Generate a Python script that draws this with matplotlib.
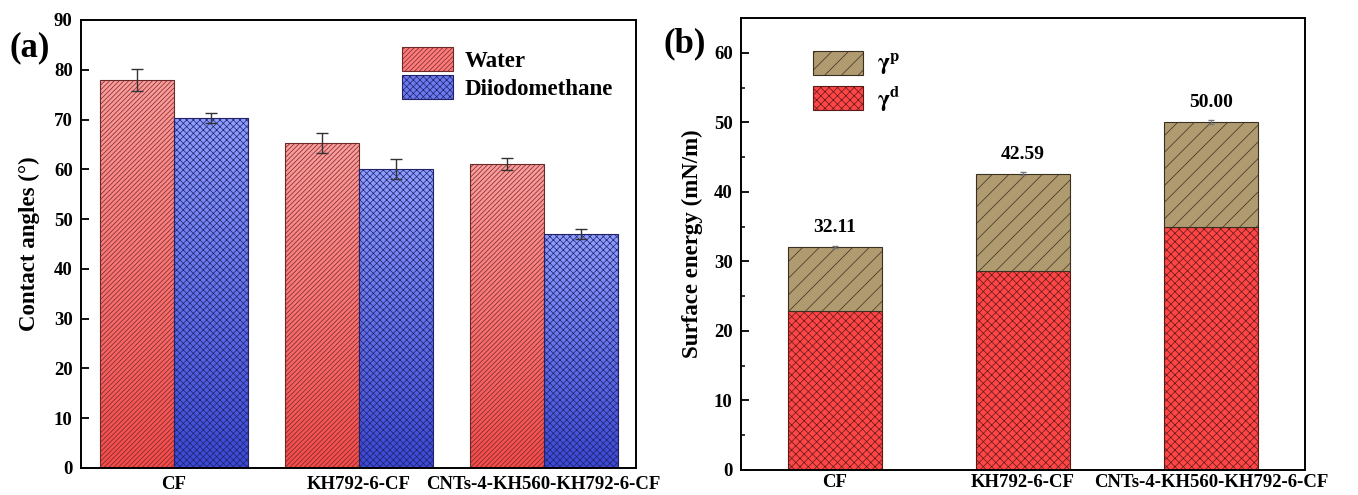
import numpy as np
import matplotlib
matplotlib.use("Agg")
import matplotlib.pyplot as plt
from matplotlib.colors import LinearSegmentedColormap

plt.rcParams['font.family'] = ['Liberation Serif', 'DejaVu Serif']
plt.rcParams['font.weight'] = 'bold'
plt.rcParams['mathtext.fontset'] = 'stix'
plt.rcParams['hatch.linewidth'] = 0.5

# data
samples = ["CF", "KH792-6-CF", "CNTs-4-KH560-KH792-6-CF"]
water = [78.0, 65.2, 61.0]
water_err = [2.2, 2.0, 1.2]
diiodo = [70.3, 60.0, 47.0]
diiodo_err = [1.0, 2.0, 1.0]

gamma_d = [22.8, 28.6, 35.0]
total = [32.11, 42.59, 50.00]
total_err = [0.15, 0.2, 0.3]
gamma_p = [t - d for t, d in zip(total, gamma_d)]


def gradient_bars(ax, bars, top_col, bot_col):
    """fill each bar with a vertical gradient"""
    cmap = LinearSegmentedColormap.from_list("g", [bot_col, top_col])
    grad = np.linspace(0, 1, 256).reshape(-1, 1)
    for b in bars:
        x0, y0 = b.get_x(), b.get_y()
        w, h = b.get_width(), b.get_height()
        im = ax.imshow(grad, cmap=cmap, origin="lower", aspect="auto",
                       extent=[x0, x0 + w, y0, y0 + h], zorder=1.5)
        im.set_clip_path(b)


W, H = 1358, 495
fig = plt.figure(figsize=(W / 100, H / 100), dpi=100)
ax1 = fig.add_axes([81 / W, 1 - 468 / H, 555 / W, 448 / H])
ax2 = fig.add_axes([741 / W, 1 - 470 / H, 564 / W, 452 / H])

# ---- panel (a)
x = np.arange(len(samples))
w = 0.4
b1 = ax1.bar(x - w / 2, water, w, facecolor="none", edgecolor="#6a2a2a",
             hatch="///////", linewidth=0.8, zorder=2, label="Water")
b2 = ax1.bar(x + w / 2, diiodo, w, facecolor="none", edgecolor="#22226a",
             hatch="xxxxx", linewidth=0.8, zorder=2, label="Diiodomethane")
gradient_bars(ax1, b1, "#ff9c9c", "#f54a4a")
gradient_bars(ax1, b2, "#8e9eff", "#3a48d4")
ax1.errorbar(x - w / 2, water, yerr=water_err, fmt="none", ecolor="#333333",
             elinewidth=1, capsize=4, capthick=1, zorder=3)
ax1.errorbar(x + w / 2, diiodo, yerr=diiodo_err, fmt="none", ecolor="#333333",
             elinewidth=1, capsize=4, capthick=1, zorder=3)
ax1.set_xlim(-0.5, 2.5)
ax1.set_ylim(0, 90)
ax1.set_yticks(np.arange(0, 91, 10))
ax1.set_xticks(x)
ax1.set_xticklabels(samples)
ax1.set_ylabel("Contact angles (°)", fontsize=16.5, fontweight="bold", labelpad=10)
leg1 = ax1.legend(loc="upper right", bbox_to_anchor=(0.995, 0.985), frameon=False,
                  fontsize=16.5, handlelength=2.2, handleheight=1.2,
                  labelspacing=0.15, handletextpad=0.5)
leg1.legend_handles[0].set_facecolor("#ff7a7a")
leg1.legend_handles[1].set_facecolor("#6a7aef")
fig.text(30 / W, 1 - 48 / H, "(a)", fontsize=25, fontweight="bold",
         ha="center", va="center")

# ---- panel (b)
wb = 0.5
d_bars = ax2.bar(x, gamma_d, wb, color="#ff4545", edgecolor="#5a1a1a",
                 hatch="xxxx", linewidth=0.8, label=r"$\mathbf{\gamma}^{\mathbf{d}}$", zorder=2)
p_bars = ax2.bar(x, gamma_p, wb, bottom=gamma_d, color="#b09a70", edgecolor="#3a3020",
                 hatch="//", linewidth=0.8, label=r"$\mathbf{\gamma}^{\mathbf{p}}$", zorder=2)
ax2.errorbar(x, total, yerr=total_err, fmt="none", ecolor="#777777",
             elinewidth=0.8, capsize=2, zorder=3)
for xi, t in zip(x, total):
    ax2.text(xi, t + 1.6, "%.2f" % t, ha="center", va="bottom",
             fontsize=14, fontweight="bold")
ax2.set_xlim(-0.5, 2.5)
ax2.set_ylim(0, 65)
ax2.set_yticks(np.arange(0, 61, 10))
ax2.set_yticks(np.arange(5, 65, 10), minor=True)
ax2.set_xticks(x)
ax2.set_xticklabels(samples)
ax2.set_ylabel("Surface energy (mN/m)", fontsize=16.5, fontweight="bold", labelpad=8)
h, l = ax2.get_legend_handles_labels()
ax2.legend(h[::-1], l[::-1], loc="upper left", bbox_to_anchor=(0.09, 0.975),
           frameon=False, fontsize=17, handlelength=2.1, handleheight=1.2,
           labelspacing=0.25, handletextpad=0.6)
fig.text(685 / W, 1 - 44 / H, "(b)", fontsize=25, fontweight="bold",
         ha="center", va="center")

for ax in (ax1, ax2):
    for s in ax.spines.values():
        s.set_linewidth(1.4)
    ax.tick_params(axis="y", labelsize=13.5, direction="in", length=6, width=1.3, pad=6)
    ax.tick_params(axis="y", which="minor", direction="in", length=3, width=1.1)
    ax.tick_params(axis="x", labelsize=13.5, length=0, pad=6)
    for lab in ax.get_xticklabels() + ax.get_yticklabels():
        lab.set_fontweight("bold")
ax2.tick_params(axis="x", pad=3)

fig.savefig("out.png", dpi=100)
